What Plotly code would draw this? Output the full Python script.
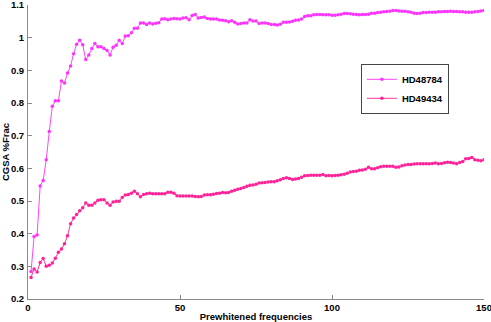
import plotly.graph_objects as go

x_vals = list(range(1, 151))

hd48784 = [
    0.284, 0.391, 0.396, 0.546, 0.563, 0.626, 0.713, 0.790, 0.807, 0.807,
    0.867, 0.861, 0.892, 0.913, 0.951, 0.980, 0.992, 0.978, 0.933, 0.947,
    0.967, 0.982, 0.972, 0.972, 0.967, 0.961, 0.947, 0.971, 0.977, 0.992,
    0.982, 1.005, 1.006, 1.015, 1.029, 1.029, 1.045, 1.045, 1.040, 1.045,
    1.042, 1.044, 1.046, 1.057, 1.058, 1.055, 1.057, 1.059, 1.058, 1.057,
    1.060, 1.061, 1.055, 1.068, 1.071, 1.060, 1.062, 1.063, 1.059, 1.057,
    1.057, 1.057, 1.054, 1.053, 1.052, 1.049, 1.052, 1.047, 1.042, 1.043,
    1.045, 1.045, 1.055, 1.051, 1.051, 1.043, 1.045, 1.045, 1.043, 1.040,
    1.040, 1.039, 1.041, 1.047, 1.047, 1.048, 1.050, 1.053, 1.054, 1.057,
    1.065, 1.067, 1.067, 1.070, 1.071, 1.071, 1.070, 1.070, 1.070, 1.069,
    1.069, 1.070, 1.072, 1.074, 1.074, 1.073, 1.072, 1.071, 1.070, 1.071,
    1.071, 1.072, 1.075, 1.075, 1.077, 1.078, 1.079, 1.080, 1.081, 1.083,
    1.083, 1.082, 1.081, 1.081, 1.079, 1.078, 1.075, 1.074, 1.075, 1.077,
    1.077, 1.078, 1.078, 1.078, 1.079, 1.079, 1.080, 1.080, 1.081, 1.080,
    1.080, 1.079, 1.079, 1.078, 1.078, 1.078, 1.079, 1.080, 1.082, 1.083,
]

hd49434 = [
    0.266, 0.292, 0.283, 0.312, 0.324, 0.300, 0.303, 0.310, 0.325, 0.343,
    0.353, 0.369, 0.394, 0.430, 0.448, 0.459, 0.470, 0.479, 0.494, 0.487,
    0.487, 0.494, 0.502, 0.504, 0.504, 0.494, 0.487, 0.497, 0.499, 0.499,
    0.511, 0.518, 0.520, 0.524, 0.530, 0.522, 0.513, 0.520, 0.522, 0.524,
    0.522, 0.522, 0.522, 0.522, 0.522, 0.527, 0.527, 0.524, 0.516, 0.515,
    0.515, 0.515, 0.515, 0.515, 0.514, 0.513, 0.514, 0.518, 0.519, 0.519,
    0.521, 0.523, 0.524, 0.526, 0.525, 0.526, 0.530, 0.533, 0.536, 0.538,
    0.541, 0.545, 0.548, 0.549, 0.551, 0.555, 0.556, 0.557, 0.558, 0.559,
    0.559, 0.562, 0.565, 0.569, 0.571, 0.569, 0.566, 0.567, 0.569, 0.573,
    0.577, 0.578, 0.579, 0.579, 0.579, 0.579, 0.581, 0.577, 0.578, 0.577,
    0.578, 0.579, 0.580, 0.582, 0.585, 0.589, 0.590, 0.591, 0.594, 0.595,
    0.597, 0.603, 0.599, 0.599, 0.602, 0.605, 0.606, 0.606, 0.606, 0.606,
    0.603, 0.604, 0.608, 0.610, 0.612, 0.612, 0.613, 0.614, 0.614, 0.614,
    0.614, 0.614, 0.615, 0.616, 0.614, 0.615, 0.617, 0.619, 0.618, 0.616,
    0.614, 0.618, 0.621, 0.629, 0.630, 0.633, 0.626, 0.625, 0.623, 0.626,
]

x_ticks = [0, 50, 100, 150]
y_ticks = [0.2, 0.3, 0.4, 0.5, 0.6, 0.7, 0.8, 0.9, 1.0, 1.1]
y_tick_text = ["0.2", "0.3", "0.4", "0.5", "0.6", "0.7", "0.8", "0.9", "1", "1.1"]

FONT = "Liberation Sans, Arial, Helvetica, sans-serif"
FS = 9.5

fig = go.Figure()
fig.add_trace(go.Scatter(
    x=x_vals, y=hd48784, name="HD48784", mode="lines+markers",
    line=dict(color="#ff44ff", width=1),
    marker=dict(color="#ff33ff", size=3.5),
))
fig.add_trace(go.Scatter(
    x=x_vals, y=hd49434, name="HD49434", mode="lines+markers",
    line=dict(color="#ff3399", width=1),
    marker=dict(color="#ff2299", size=3.5),
))

axis_common = dict(
    showgrid=False, zeroline=False, showline=True, linecolor="#8a8a8a",
    linewidth=1, ticks="inside", ticklen=4, tickcolor="#8a8a8a",
    tickfont=dict(family=FONT, size=FS, color="black", weight="bold"),
    mirror=False, automargin=False,
)

fig.update_layout(
    width=491, height=322,
    margin=dict(l=28, r=7, t=5, b=23),
    paper_bgcolor="white", plot_bgcolor="white",
    font=dict(family=FONT, size=FS, color="black"),
    hovermode=False,
    xaxis=dict(
        range=[0, 150], tickvals=x_ticks,
        title=dict(text="Prewhitened frequencies", standoff=0,
                   font=dict(family=FONT, size=FS, color="black", weight="bold")),
        ticklabelstandoff=0, ticklabeloverflow="allow",
        **axis_common,
    ),
    yaxis=dict(
        range=[0.2, 1.1], tickvals=y_ticks, ticktext=y_tick_text,
        title=dict(text="CGSA %Frac", standoff=2,
                   font=dict(family=FONT, size=FS, color="black", weight="bold")),
        ticklabelstandoff=1, ticklabeloverflow="allow",
        **axis_common,
    ),
    showlegend=True,
    legend=dict(
        x=0.73, y=0.80, xanchor="left", yanchor="top",
        bordercolor="#444444", borderwidth=1, bgcolor="white",
        font=dict(family=FONT, size=FS, color="black", weight="bold"),
        itemwidth=30, tracegroupgap=0,
    ),
)

fig.write_html(
    "out.html",
    config={"displayModeBar": False},
    post_script="document.body.style.margin='0';document.body.style.padding='0';",
)
